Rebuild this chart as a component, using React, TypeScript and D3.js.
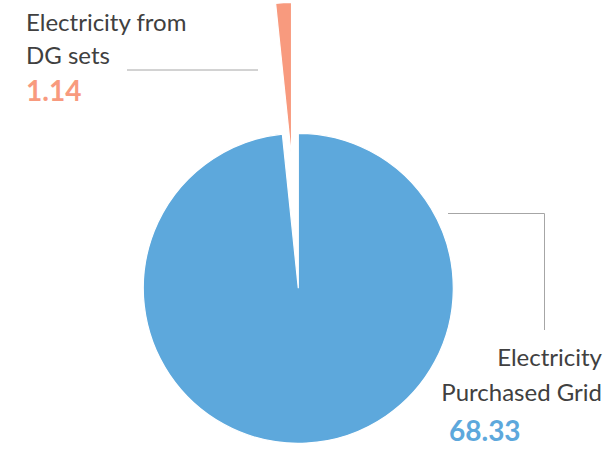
import React from "react";
import * as d3 from "d3";

const categories = ["Electricity Purchased Grid", "Electricity from DG sets"];
const values = [68.33, 1.14];
const valueLabels = ["68.33", "1.14"];
const colors = ["#5DA8DC", "#F89A7E"];

const W = 604;
const H = 453;
const cx = 298.3;
const cy = 288.3;
const R = 155;
const explode = [0, 131];

export default function App() {
  const pie = d3
    .pie<number>()
    .sort(null)
    .value((d) => d)
    .startAngle(0)
    .endAngle(2 * Math.PI);
  const arcs = pie(values);
  const arc = d3.arc<d3.PieArcDatum<number>>().innerRadius(0).outerRadius(R);
  const font = "Lato, 'Open Sans', sans-serif";
  const textColor = "#404040";
  const fs = 24;
  const vfs = 28;
  return (
    <svg
      width={W}
      height={H}
      style={{ position: "absolute", left: 0, top: 0, background: "#fff" }}
    >
      {arcs.map((a, i) => {
        const mid = (a.startAngle + a.endAngle) / 2;
        const dx = Math.sin(mid) * explode[i];
        const dy = -Math.cos(mid) * explode[i];
        return (
          <path
            key={i}
            d={arc(a) || ""}
            transform={`translate(${cx + dx},${cy + dy})`}
            fill={colors[i]}
            stroke="#fff"
            strokeWidth={1.2}
          />
        );
      })}
      {/* leader lines */}
      <polyline
        points="127,70 258,70"
        fill="none"
        stroke="#a6a6a6"
        strokeWidth={1}
      />
      <polyline
        points="448,213.5 544.5,213.5 544.5,330"
        fill="none"
        stroke="#a6a6a6"
        strokeWidth={1}
      />
      {/* DG label */}
      <text x={26} y={31} fontFamily={font} fontSize={fs} fill={textColor}>
        Electricity from
      </text>
      <text x={26} y={64} fontFamily={font} fontSize={fs} fill={textColor}>
        DG sets
      </text>
      <text
        x={26}
        y={101}
        fontFamily={font}
        fontSize={vfs}
        fontWeight="bold"
        fill={colors[1]}
      >
        {valueLabels[1]}
      </text>
      {/* Grid label */}
      <text
        x={602}
        y={366}
        textAnchor="end"
        fontFamily={font}
        fontSize={fs}
        fill={textColor}
      >
        Electricity
      </text>
      <text
        x={602}
        y={401}
        textAnchor="end"
        fontFamily={font}
        fontSize={fs}
        fill={textColor}
      >
        Purchased Grid
      </text>
      <text
        x={449}
        y={441}
        fontFamily={font}
        fontSize={vfs}
        fontWeight="bold"
        fill={colors[0]}
      >
        {valueLabels[0]}
      </text>
    </svg>
  );
}
